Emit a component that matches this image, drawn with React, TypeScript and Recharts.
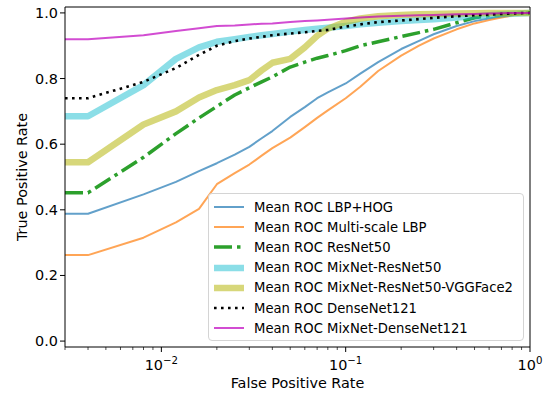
import React from 'react';
import {
  LineChart,
  Line,
  XAxis,
  YAxis,
  Legend,
  ReferenceLine,
} from 'recharts';

// false positive rate grid (log axis)
const FPR = [
  0.003, 0.004, 0.008, 0.012, 0.016, 0.02, 0.025, 0.03, 0.035, 0.04, 0.05, 0.06, 0.07,
  0.08, 0.1, 0.12, 0.15, 0.2, 0.25, 0.3, 0.4, 0.5, 0.6, 0.7, 0.85, 1.0,
];

const LBP_HOG = [
  0.388, 0.388, 0.447, 0.485, 0.518, 0.542, 0.568, 0.592, 0.618, 0.64, 0.683, 0.713, 0.74,
  0.758, 0.785, 0.815, 0.85, 0.89, 0.915, 0.935, 0.96, 0.975, 0.983, 0.989, 0.996, 1.0,
];
const MULTI_LBP = [
  0.262, 0.262, 0.315, 0.362, 0.403, 0.478, 0.512, 0.538, 0.565, 0.588, 0.62, 0.652, 0.68,
  0.703, 0.74, 0.775, 0.823, 0.87, 0.9, 0.922, 0.95, 0.968, 0.978, 0.986, 0.995, 1.0,
];
const RESNET50 = [
  0.452, 0.452, 0.56, 0.632, 0.68, 0.715, 0.75, 0.772, 0.79, 0.805, 0.835, 0.85, 0.862,
  0.87, 0.885, 0.9, 0.912, 0.928, 0.94, 0.95, 0.97, 0.985, 0.992, 0.996, 0.998, 1.0,
];
const MIX_RESNET50 = [
  0.685, 0.685, 0.78, 0.86, 0.895, 0.912, 0.92, 0.927, 0.932, 0.936, 0.943, 0.948, 0.952,
  0.955, 0.96, 0.965, 0.97, 0.975, 0.978, 0.981, 0.986, 0.99, 0.993, 0.996, 0.998, 1.0,
];
const MIX_VGGFACE2 = [
  0.545, 0.545, 0.66, 0.7, 0.742, 0.765, 0.78, 0.795, 0.825, 0.848, 0.86, 0.895, 0.93,
  0.952, 0.973, 0.983, 0.99, 0.994, 0.996, 0.997, 0.998, 0.999, 1.0, 1.0, 1.0, 1.0,
];
const DENSENET121 = [
  0.74, 0.74, 0.79, 0.832, 0.872, 0.9, 0.914, 0.922, 0.927, 0.932, 0.937, 0.941, 0.945,
  0.948, 0.958, 0.965, 0.972, 0.977, 0.981, 0.985, 0.99, 0.993, 0.995, 0.997, 0.999, 1.0,
];
const MIX_DENSENET121 = [
  0.92, 0.92, 0.932, 0.945, 0.953, 0.96, 0.962, 0.965, 0.967, 0.968, 0.972, 0.975, 0.977,
  0.979, 0.983, 0.986, 0.989, 0.991, 0.993, 0.994, 0.996, 0.997, 0.998, 0.999, 1.0, 1.0,
];

const X_MAJOR_TICKS = [0.01, 0.1, 1];
const X_MINOR_TICKS = [
  0.003, 0.004, 0.005, 0.006, 0.007, 0.008, 0.009,
  0.02, 0.03, 0.04, 0.05, 0.06, 0.07, 0.08, 0.09,
  0.2, 0.3, 0.4, 0.5, 0.6, 0.7, 0.8, 0.9,
];
const Y_TICKS = [0, 0.2, 0.4, 0.6, 0.8, 1.0];
const X_DOMAIN = [0.003, 1];
const Y_DOMAIN = [-0.018, 1.018];

const SERIES = [
  { key: 'lbpHog', name: 'Mean ROC LBP+HOG', values: LBP_HOG, color: '#1f77b4', opacity: 0.7, width: 2, dash: undefined },
  { key: 'multiLbp', name: 'Mean ROC Multi-scale LBP', values: MULTI_LBP, color: '#ff7f0e', opacity: 0.7, width: 2, dash: undefined },
  { key: 'resnet50', name: 'Mean ROC ResNet50', values: RESNET50, color: '#2ca02c', opacity: 1, width: 3.5, dash: '18 5 3.5 5' },
  { key: 'mixResnet50', name: 'Mean ROC MixNet-ResNet50', values: MIX_RESNET50, color: '#17becf', opacity: 0.5, width: 6.5, dash: undefined },
  { key: 'mixVgg', name: 'Mean ROC MixNet-ResNet50-VGGFace2', values: MIX_VGGFACE2, color: '#bcbd22', opacity: 0.6, width: 6.5, dash: undefined },
  { key: 'densenet', name: 'Mean ROC DenseNet121', values: DENSENET121, color: '#000000', opacity: 1, width: 2.6, dash: '2.6 4.4' },
  { key: 'mixDensenet', name: 'Mean ROC MixNet-DenseNet121', values: MIX_DENSENET121, color: '#bf00bf', opacity: 0.7, width: 2, dash: undefined },
];

const data = FPR.map((fpr, i) => {
  const row: any = { fpr };
  SERIES.forEach((s) => {
    row[s.key] = s.values[i];
  });
  return row;
});

const FONT = '"DejaVu Sans", sans-serif';

const XTick = (props: any) => {
  const { x, y, payload } = props;
  const v = payload.value;
  const major = X_MAJOR_TICKS.includes(v);
  const exp = Math.round(Math.log10(v));
  return (
    <g>
      <line x1={x} x2={x} y1={y} y2={y + (major ? 5 : 3)} stroke="#000" strokeWidth={major ? 1 : 0.7} />
      {major && (
        <text x={x} y={y + 23} textAnchor="middle" fontSize={14.4} fontFamily={FONT} fill="#000">
          10
          <tspan dy={-6.5} fontSize={10.2}>{exp === 0 ? '0' : '\u2212' + -exp}</tspan>
        </text>
      )}
    </g>
  );
};

const YTick = (props: any) => {
  const { x, y, payload } = props;
  return (
    <g>
      <line x1={x - 5} x2={x} y1={y} y2={y} stroke="#000" strokeWidth={1} />
      <text x={x - 7} y={y + 5} textAnchor="end" fontSize={14.4} fontFamily={FONT} fill="#000">
        {payload.value.toFixed(1)}
      </text>
    </g>
  );
};

const LegendBox = () => (
  <div
    style={{
      boxSizing: 'border-box',
      width: 316,
      height: 148,
      border: '1px solid #d4d4d4',
      borderRadius: 4,
      background: 'rgba(255,255,255,0.85)',
      position: 'relative',
      fontFamily: FONT,
      fontSize: 13.2,
      color: '#000',
    }}
  >
    {SERIES.map((s, i) => (
      <div
        key={s.key}
        style={{ position: 'absolute', left: 5, top: 3 + i * 20.2, height: 20, display: 'flex', alignItems: 'center', whiteSpace: 'nowrap' }}
      >
        <svg width={30} height={12} style={{ marginRight: 10 }}>
          <line
            x1={0}
            x2={30}
            y1={6}
            y2={6}
            stroke={s.color}
            strokeOpacity={s.opacity}
            strokeWidth={s.width}
            strokeDasharray={s.dash}
          />
        </svg>
        <span>{s.name}</span>
      </div>
    ))}
  </div>
);

const App: React.FC = () => {
  return (
    <div style={{ position: 'absolute', left: 0, top: 0, background: '#fff' }}>
      <LineChart width={555} height={394} data={data} margin={{ top: 7, right: 25, left: 0, bottom: 0 }}>
        <XAxis
          dataKey="fpr"
          type="number"
          scale="log"
          domain={X_DOMAIN}
          allowDataOverflow
          ticks={[...X_MINOR_TICKS, ...X_MAJOR_TICKS]}
          interval={0}
          height={47}
          tickSize={0}
          tickMargin={0}
          tickLine={false}
          tick={<XTick />}
          axisLine={{ stroke: '#000', strokeWidth: 1 }}
          label={{
            content: (p: any) => {
              const vb = p.viewBox || { x: 65, width: 465, y: 347 };
              return (
                <text x={vb.x + vb.width / 2} y={vb.y + 41} textAnchor="middle" fontSize={14.4} fontFamily={FONT} fill="#000">
                  False Positive Rate
                </text>
              );
            },
          }}
        />
        <YAxis
          type="number"
          domain={Y_DOMAIN}
          allowDataOverflow
          ticks={Y_TICKS}
          width={65}
          tickSize={0}
          tickMargin={0}
          tickLine={false}
          tick={<YTick />}
          axisLine={{ stroke: '#000', strokeWidth: 1 }}
          label={{
            content: (p: any) => {
              const vb = p.viewBox || { y: 7, height: 340 };
              const cy = vb.y + vb.height / 2;
              return (
                <text x={27} y={cy} transform={`rotate(-90 27 ${cy})`} textAnchor="middle" fontSize={14.4} fontFamily={FONT} fill="#000">
                  True Positive Rate
                </text>
              );
            },
          }}
        />
        <ReferenceLine y={Y_DOMAIN[1]} stroke="#000" strokeWidth={1} ifOverflow="visible" />
        <ReferenceLine x={X_DOMAIN[1]} stroke="#000" strokeWidth={1} ifOverflow="visible" />
        {SERIES.map((s) => (
          <Line
            key={s.key}
            name={s.name}
            dataKey={s.key}
            type="linear"
            stroke={s.color}
            strokeOpacity={s.opacity}
            strokeWidth={s.width}
            strokeDasharray={s.dash}
            strokeLinejoin="round"
            dot={false}
            activeDot={false}
            isAnimationActive={false}
          />
        ))}
        <Legend
          layout="vertical"
          align="center"
          verticalAlign="middle"
          wrapperStyle={{ left: 208, top: 193, width: 316, height: 148 }}
          content={() => <LegendBox />}
        />
      </LineChart>
    </div>
  );
};

export default App;
